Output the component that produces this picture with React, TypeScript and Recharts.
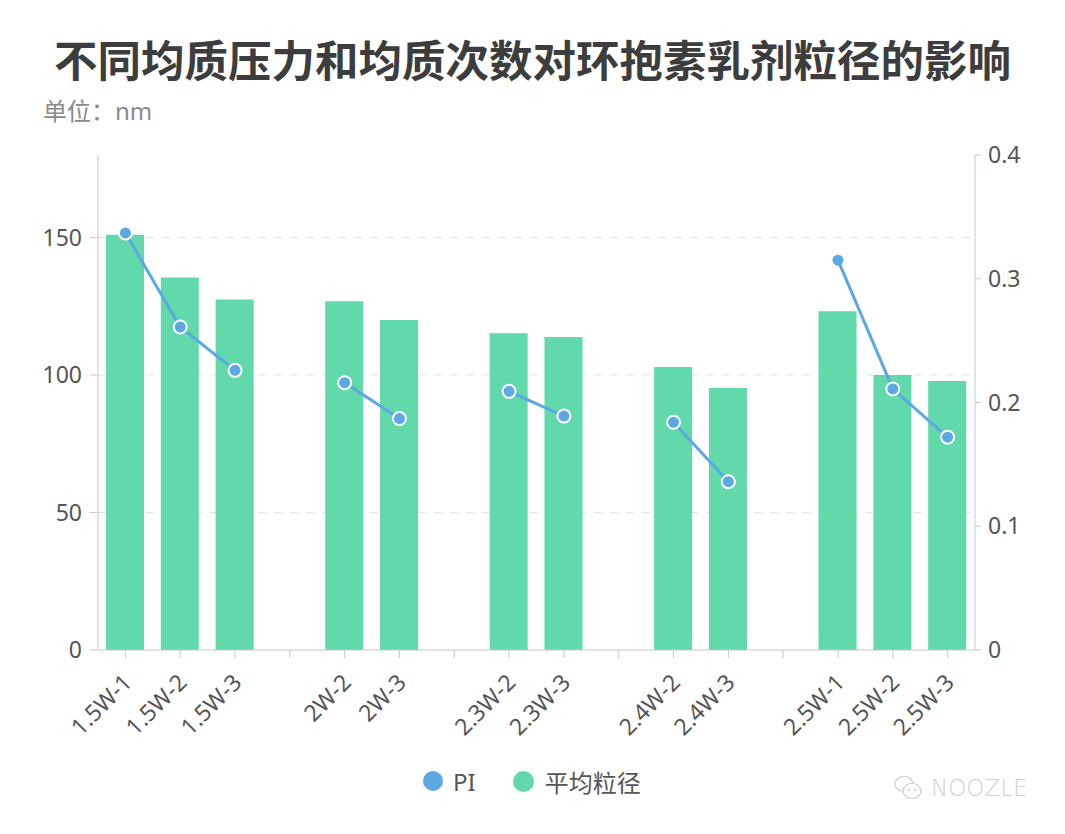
import { ComposedChart, Bar, Line, XAxis, YAxis, CartesianGrid } from "recharts";

// empty strings are spacer slots between the pressure groups
const categories = [
  "1.5W-1", "1.5W-2", "1.5W-3", "",
  "2W-2", "2W-3", "",
  "2.3W-2", "2.3W-3", "",
  "2.4W-2", "2.4W-3", "",
  "2.5W-1", "2.5W-2", "2.5W-3",
];
const sizeValues = [151, 135.5, 127.5, null, 126.8, 120, null, 115.2, 113.8, null, 102.9, 95.3, null, 123.2, 100, 97.8];
const piValues = [0.337, 0.261, 0.226, null, 0.216, 0.187, null, 0.209, 0.189, null, 0.184, 0.136, null, 0.315, 0.211, 0.172];
const leftTicks = [0, 50, 100, 150];
const gridValues = [50, 100, 150];
const rightTicks = [0, 0.1, 0.2, 0.3, 0.4];

const data = categories.map((name, i) => ({ name, size: sizeValues[i], pi: piValues[i] }));

const BAR = "#61d9aa";
const LINE = "#5ba8e3";
const FONT = "'Noto Sans', 'Noto Sans CJK SC', sans-serif";
const CJK = "'Noto Sans CJK SC', 'Noto Sans', sans-serif";

function XTick(props: any) {
  const { x, y, payload } = props;
  if (!payload.value) return null;
  return (
    <text
      x={x + 8}
      y={y + 24}
      transform={`rotate(-45, ${x + 8}, ${y + 24})`}
      textAnchor="end"
      fontSize={23}
      fill="#555"
      fontFamily={FONT}
    >
      {payload.value}
    </text>
  );
}

function PiDot(props: any) {
  const { cx, cy, index, value } = props;
  if (value == null || cy == null) return null;
  // the isolated start of the last group has no white ring in the original
  const plain = index === 13;
  return (
    <circle
      key={index}
      cx={cx}
      cy={cy}
      r={plain ? 5.5 : 6.5}
      fill={LINE}
      stroke="#fff"
      strokeWidth={plain ? 0 : 2}
    />
  );
}

export default function App() {
  return (
    <div style={{ position: "absolute", left: 0, top: 0, width: 1065, height: 834, background: "#fff", fontFamily: CJK }}>
      <div style={{ position: "absolute", top: 28, left: 0, width: 1065, textAlign: "center", fontSize: 43.5, fontWeight: 700, color: "#3d3d3d", lineHeight: "62px" }}>
        不同均质压力和均质次数对环抱素乳剂粒径的影响
      </div>
      <div style={{ position: "absolute", top: 93, left: 43, fontSize: 24, color: "#8a8a8a", lineHeight: "34px" }}>
        单位：<span style={{ fontFamily: FONT }}>nm</span>
      </div>
      <ComposedChart
        width={1065}
        height={834}
        data={data}
        margin={{ top: 155, right: 0, left: 0, bottom: 0 }}
      >
        <CartesianGrid
          yAxisId="left"
          vertical={false}
          horizontalValues={gridValues}
          stroke="#e3e3e3"
          strokeDasharray="8 8"
        />
        <XAxis
          dataKey="name"
          height={184}
          interval={0}
          tick={<XTick />}
          tickSize={8}
          stroke="#c8c8c8"
          tickLine={{ stroke: "#c8c8c8" }}
        />
        <YAxis
          yAxisId="left"
          width={98}
          domain={[0, 180]}
          ticks={leftTicks}
          tickSize={8}
          tickMargin={8}
          stroke="#c8c8c8"
          tick={{ fontSize: 23, fill: "#555", fontFamily: FONT }}
        />
        <YAxis
          yAxisId="right"
          orientation="right"
          width={90}
          domain={[0, 0.4]}
          ticks={rightTicks}
          tickSize={6}
          tickMargin={7}
          stroke="#c8c8c8"
          tick={{ fontSize: 23, fill: "#555", fontFamily: FONT }}
        />
        <Bar yAxisId="left" dataKey="size" name="平均粒径" fill={BAR} barSize={38} isAnimationActive={false} />
        <Line
          yAxisId="right"
          dataKey="pi"
          name="PI"
          stroke={LINE}
          strokeWidth={3}
          dot={<PiDot />}
          activeDot={false}
          isAnimationActive={false}
        />
      </ComposedChart>
      <div style={{ position: "absolute", top: 764, left: 423, height: 34, display: "flex", alignItems: "center", fontSize: 24, color: "#555" }}>
        <span style={{ width: 20, height: 20, borderRadius: 10, background: LINE, marginRight: 10 }} />
        <span style={{ fontFamily: FONT }}>PI</span>
        <span style={{ width: 21, height: 21, borderRadius: 11, background: BAR, marginLeft: 37, marginRight: 11 }} />
        <span>平均粒径</span>
      </div>
      <div style={{ position: "absolute", top: 773, left: 893, display: "flex", alignItems: "center" }}>
        <svg width={32} height={30} viewBox="0 0 32 30">
          <ellipse cx={11} cy={11} rx={9} ry={7.5} fill="none" stroke="#cfcfcf" strokeWidth={1.2} />
          <ellipse cx={19} cy={18} rx={9} ry={7.5} fill="#fff" stroke="#cfcfcf" strokeWidth={1.2} />
          <circle cx={16} cy={17} r={1.2} fill="#cfcfcf" />
          <circle cx={22} cy={17} r={1.2} fill="#cfcfcf" />
        </svg>
        <span style={{ marginLeft: 6, fontSize: 23, color: "#cfcfcf", fontFamily: "'DejaVu Sans', sans-serif", fontWeight: 300 }}>
          NOOZLE
        </span>
      </div>
    </div>
  );
}
